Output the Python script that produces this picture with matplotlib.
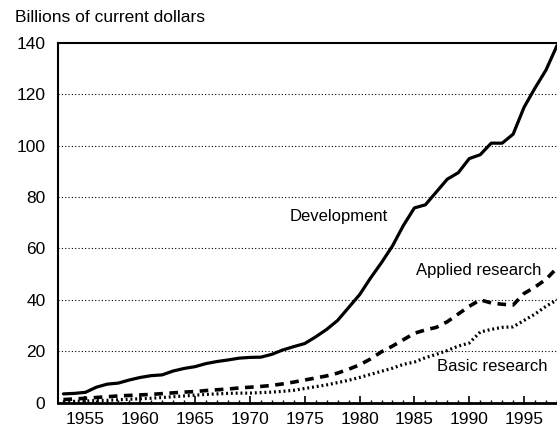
import numpy as np
import matplotlib.pyplot as plt

plt.rcParams['font.family'] = ['Liberation Sans', 'DejaVu Sans']

# R&D spending by character of work, billions of current dollars
years = list(range(1953, 1999))
development = [3.4, 3.6, 4.0, 6.0, 7.2, 7.6, 8.8, 9.8, 10.5, 10.8,
               12.3, 13.3, 14.0, 15.2, 16.0, 16.6, 17.3, 17.6, 17.7, 18.8,
               20.5, 21.8, 23.0, 25.6, 28.5, 32.0, 37.0, 42.0, 48.5, 54.5,
               61.0, 69.0, 75.8, 77.0, 82.0, 87.0, 89.5, 95.0, 96.5, 101.0,
               101.0, 104.5, 115.0, 122.5, 129.5, 139.0]
applied = [1.2, 1.4, 1.7, 2.0, 2.3, 2.6, 2.8, 3.0, 3.2, 3.5,
           3.8, 4.1, 4.3, 4.7, 5.0, 5.3, 5.7, 6.0, 6.3, 6.7,
           7.3, 8.0, 8.8, 9.6, 10.4, 11.5, 13.0, 14.7, 17.0, 19.8,
           22.0, 24.5, 27.0, 28.3, 29.3, 31.5, 34.5, 37.5, 40.0, 38.8,
           38.3, 38.0, 42.5, 45.0, 48.0, 52.4]
basic = [0.4, 0.5, 0.6, 0.8, 0.9, 1.1, 1.3, 1.5, 1.7, 2.0,
         2.3, 2.6, 2.9, 3.2, 3.4, 3.6, 3.7, 3.7, 3.9, 4.1,
         4.4, 4.8, 5.5, 6.2, 6.9, 7.8, 8.7, 9.8, 11.0, 12.2,
         13.4, 14.9, 15.8, 17.5, 18.8, 20.3, 22.0, 23.2, 27.5, 28.5,
         29.3, 29.5, 32.0, 34.5, 37.5, 40.0]

fig = plt.figure(figsize=(5.57, 4.32), dpi=100)
ax = fig.add_axes([0.104, 0.068, 0.896, 0.8325])

# dotted horizontal guides
for v in range(20, 140, 20):
    ax.axhline(v, color='black', lw=0.8, ls=(0, (1, 2)), zorder=1)

ax.plot(years, development, color='black', lw=2.3, solid_capstyle='round', zorder=3)
ax.plot(years, applied, color='black', lw=2.6, ls=(0, (2.4, 1.8)), zorder=3)
ax.plot(years, basic, color='black', lw=2.3, ls=(0, (0.6, 0.9)), zorder=3)

ax.text(1982.6, 72.5, 'Development', fontsize=12, ha='right', va='center')
ax.text(1996.6, 51.5, 'Applied research', fontsize=12, ha='right', va='center')
ax.text(1997.1, 13.9, 'Basic research', fontsize=12, ha='right', va='center')

ax.set_xlim(1952.5, 1998)
ax.set_ylim(0, 140)
ax.set_yticks(range(0, 141, 20))
ax.set_xticks(range(1955, 1996, 5))
ax.set_xticks(range(1953, 1999), minor=True)
ax.tick_params(axis='y', length=0, pad=9, labelsize=12.5)
ax.tick_params(axis='x', which='major', direction='in', length=5, width=1.2, pad=7, labelsize=12.5)
ax.tick_params(axis='x', which='minor', direction='in', length=2.5, width=1)

ax.spines['right'].set_visible(False)
ax.spines['left'].set_linewidth(1.5)
ax.spines['top'].set_linewidth(1.5)
ax.spines['bottom'].set_linewidth(2.0)

fig.text(0.027, 0.96, 'Billions of current dollars', fontsize=12.5, va='center', ha='left')

fig.savefig('out.png', dpi=100)
